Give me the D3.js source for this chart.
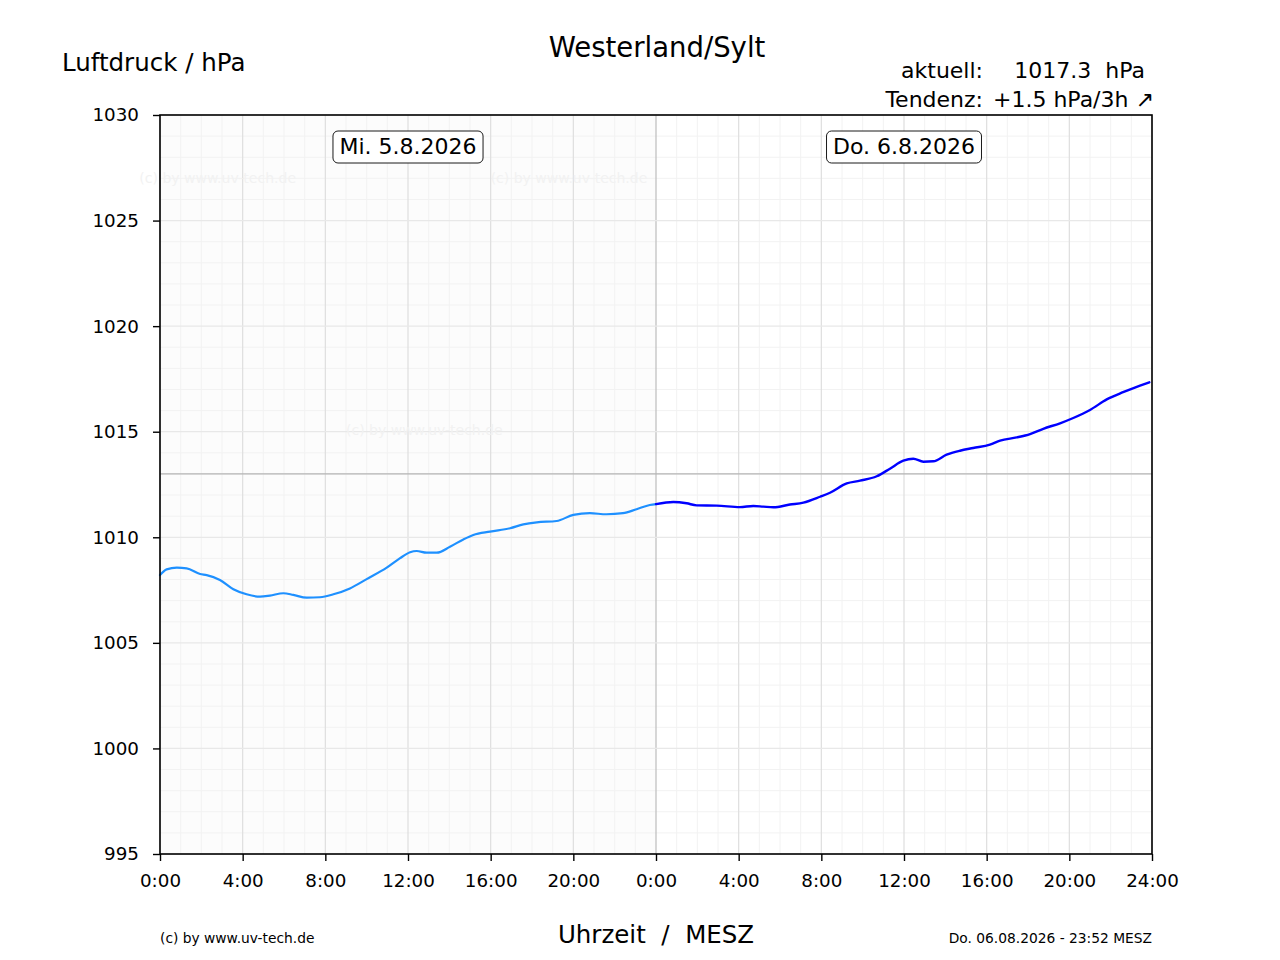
<!DOCTYPE html>
<html>
<head>
<meta charset="utf-8">
<script src="https://cdn.jsdelivr.net/npm/d3@7"></script>
<style>
  html, body { margin: 0; padding: 0; background: #fff; }
  svg { display: block; font-family: "DejaVu Sans", sans-serif; }
  svg text { white-space: pre; }
</style>
</head>
<body>
<svg id="chart" width="1280" height="960"></svg>
<script>
// ---- data (hours since 0:00 of day 1; pressure in hPa) ----
const day1Hours = [0, 0.32, 0.81, 1.29, 1.94, 2.26, 2.9, 3.55, 4.19, 4.84, 5.32, 5.97, 6.45, 7.1, 7.74, 8.39, 9.19, 10.0, 10.97, 11.6, 12.1, 12.42, 12.9, 13.39, 14.03, 14.68, 15.16, 15.97, 16.94, 17.58, 18.23, 19.19, 20.0, 20.8, 21.6, 22.4, 23.06, 23.7, 24.0];
const day1Values = [1008.21, 1008.48, 1008.56, 1008.53, 1008.26, 1008.21, 1007.98, 1007.54, 1007.30, 1007.19, 1007.24, 1007.35, 1007.27, 1007.14, 1007.16, 1007.30, 1007.58, 1008.02, 1008.56, 1009.0, 1009.29, 1009.35, 1009.27, 1009.27, 1009.55, 1009.90, 1010.11, 1010.27, 1010.43, 1010.61, 1010.71, 1010.77, 1011.06, 1011.14, 1011.09, 1011.14, 1011.33, 1011.53, 1011.57];
const day2Hours = [24.0, 24.84, 25.48, 25.97, 26.94, 28.06, 28.71, 29.19, 29.68, 30.48, 31.13, 31.94, 32.42, 33.23, 33.87, 34.68, 35.32, 35.97, 36.45, 36.94, 37.42, 38.06, 38.71, 39.35, 40.16, 40.65, 41.45, 42.1, 42.74, 43.55, 44.19, 45.0, 45.81, 46.6, 47.42, 47.87];
const day2Values = [1011.57, 1011.67, 1011.61, 1011.51, 1011.50, 1011.43, 1011.48, 1011.45, 1011.42, 1011.55, 1011.64, 1011.92, 1012.11, 1012.55, 1012.68, 1012.89, 1013.25, 1013.63, 1013.72, 1013.58, 1013.60, 1013.91, 1014.10, 1014.23, 1014.39, 1014.58, 1014.73, 1014.89, 1015.14, 1015.40, 1015.65, 1016.03, 1016.53, 1016.87, 1017.18, 1017.34];
const yTicks = [995, 1000, 1005, 1010, 1015, 1020, 1025, 1030];
const xTicks = [0, 4, 8, 12, 16, 20, 24, 28, 32, 36, 40, 44, 48];
const xTickLabels = ["0:00", "4:00", "8:00", "12:00", "16:00", "20:00", "0:00", "4:00", "8:00", "12:00", "16:00", "20:00", "24:00"];
const dayLabels = ["Mi. 5.8.2026", "Do. 6.8.2026"];
const dayLabelHours = [12, 36];
const refPressure = 1013;
const titleText = "Westerland/Sylt";
const yAxisTitle = "Luftdruck / hPa";
const xAxisTitle = "Uhrzeit  /  MESZ";
const currentLabel = "aktuell:";
const currentValue = "1017.3  hPa";
const trendLabel = "Tendenz:";
const trendValue = "+1.5 hPa/3h \u2197";
const copyright = "(c) by www.uv-tech.de";
const timestamp = "Do. 06.08.2026 - 23:52 MESZ";
const watermarkPos = [[-1, 3.0], [16, 3.0], [9, 14.9]]; // [hour, hPa below top] approx

// ---- layout ----
const L = 160, R = 1152, T = 115, B = 854;
const svg = d3.select("#chart");
const x = d3.scaleLinear().domain([0, 48]).range([L, R]);
const y = d3.scaleLinear().domain([995, 1030]).range([B, T]);

// backgrounds
svg.append("rect").attr("x", L).attr("y", T).attr("width", R - L).attr("height", B - T).attr("fill", "#ffffff");
svg.append("rect").attr("x", x(0)).attr("y", T).attr("width", x(24) - x(0)).attr("height", B - T).attr("fill", "#fcfcfc");

const grid = svg.append("g");
// minor grid
d3.range(0, 49, 1).forEach(h => {
  if (h % 4 === 0) return;
  grid.append("line").attr("x1", x(h)).attr("x2", x(h)).attr("y1", T).attr("y2", B)
    .attr("stroke", "#f2f2f2").attr("stroke-width", 1);
});
d3.range(995, 1031, 1).forEach(v => {
  if (v % 5 === 0) return;
  grid.append("line").attr("x1", L).attr("x2", R).attr("y1", y(v)).attr("y2", y(v))
    .attr("stroke", "#f2f2f2").attr("stroke-width", 1);
});
// major grid
xTicks.forEach(h => {
  grid.append("line").attr("x1", x(h)).attr("x2", x(h)).attr("y1", T).attr("y2", B)
    .attr("stroke", h === 24 ? "#bdbdbd" : "#dedede").attr("stroke-width", 1.2);
});
yTicks.forEach(v => {
  grid.append("line").attr("x1", L).attr("x2", R).attr("y1", y(v)).attr("y2", y(v))
    .attr("stroke", "#e8e8e8").attr("stroke-width", 1.2);
});
// reference line
grid.append("line").attr("x1", L).attr("x2", R).attr("y1", y(refPressure)).attr("y2", y(refPressure))
  .attr("stroke", "#b4b4b4").attr("stroke-width", 1.2);

// watermarks
watermarkPos.forEach(p => {
  svg.append("text").attr("x", x(p[0])).attr("y", y(1030 - p[1]) + 5)
    .attr("font-size", 14).attr("fill", "#f2f2f2").text(copyright);
});

// lines
const line = d3.line().x(d => x(d[0])).y(d => y(d[1])).curve(d3.curveMonotoneX);
svg.append("path").datum(day1Hours.map((h, i) => [h, day1Values[i]]))
  .attr("d", line).attr("fill", "none").attr("stroke", "#1e90ff").attr("stroke-width", 2.2)
  .attr("stroke-linejoin", "round").attr("stroke-linecap", "round");
svg.append("path").datum(day2Hours.map((h, i) => [h, day2Values[i]]))
  .attr("d", line).attr("fill", "none").attr("stroke", "#0000ff").attr("stroke-width", 2.4)
  .attr("stroke-linejoin", "round").attr("stroke-linecap", "round");

// axes
const yAxis = d3.axisLeft(y).tickValues(yTicks).tickSize(7).tickPadding(14).tickFormat(d3.format("d"));
const gy = svg.append("g").attr("transform", `translate(${L},0)`).call(yAxis);
const xAxis = d3.axisBottom(x).tickValues(xTicks).tickSize(7).tickPadding(13).tickFormat((d, i) => xTickLabels[i]);
const gx = svg.append("g").attr("transform", `translate(0,${B})`).call(xAxis);
[gx, gy].forEach(g => {
  g.select(".domain").remove();
  g.selectAll(".tick line").attr("stroke", "#000").attr("stroke-width", 1.4);
  g.selectAll(".tick text").attr("font-size", 18.3).attr("fill", "#000").attr("font-family", "DejaVu Sans, sans-serif");
});

// frame
svg.append("rect").attr("x", L).attr("y", T).attr("width", R - L).attr("height", B - T)
  .attr("fill", "none").attr("stroke", "#000").attr("stroke-width", 1.6);

// day labels
dayLabels.forEach((lab, i) => {
  const g = svg.append("g");
  const t = g.append("text").attr("x", x(dayLabelHours[i])).attr("y", 154)
    .attr("text-anchor", "middle").attr("font-size", 22).attr("fill", "#000").text(lab);
  const bb = t.node().getBBox();
  g.insert("rect", "text").attr("x", bb.x - 6.5).attr("y", 131).attr("width", bb.width + 13).attr("height", 32)
    .attr("rx", 5).attr("fill", "#fff").attr("stroke", "#000").attr("stroke-width", 0.9);
});

// titles
svg.append("text").attr("x", 657).attr("y", 57).attr("text-anchor", "middle").attr("font-size", 27.5).text(titleText);
svg.append("text").attr("x", 62).attr("y", 71).attr("font-size", 24.5).text(yAxisTitle);
svg.append("text").attr("x", 983).attr("y", 78).attr("text-anchor", "end").attr("font-size", 22).text(currentLabel);
svg.append("text").attr("x", 1145).attr("y", 78).attr("text-anchor", "end").attr("font-size", 22).text(currentValue);
svg.append("text").attr("x", 983).attr("y", 107).attr("text-anchor", "end").attr("font-size", 22).text(trendLabel);
svg.append("text").attr("x", 993).attr("y", 107).attr("text-anchor", "start").attr("font-size", 22).text(trendValue);
svg.append("text").attr("x", 656).attr("y", 943).attr("text-anchor", "middle").attr("font-size", 24.5).text(xAxisTitle);
svg.append("text").attr("x", 160).attr("y", 943).attr("font-size", 13.8).text(copyright);
svg.append("text").attr("x", 1152).attr("y", 943).attr("text-anchor", "end").attr("font-size", 13.8).text(timestamp);
</script>
</body>
</html>
